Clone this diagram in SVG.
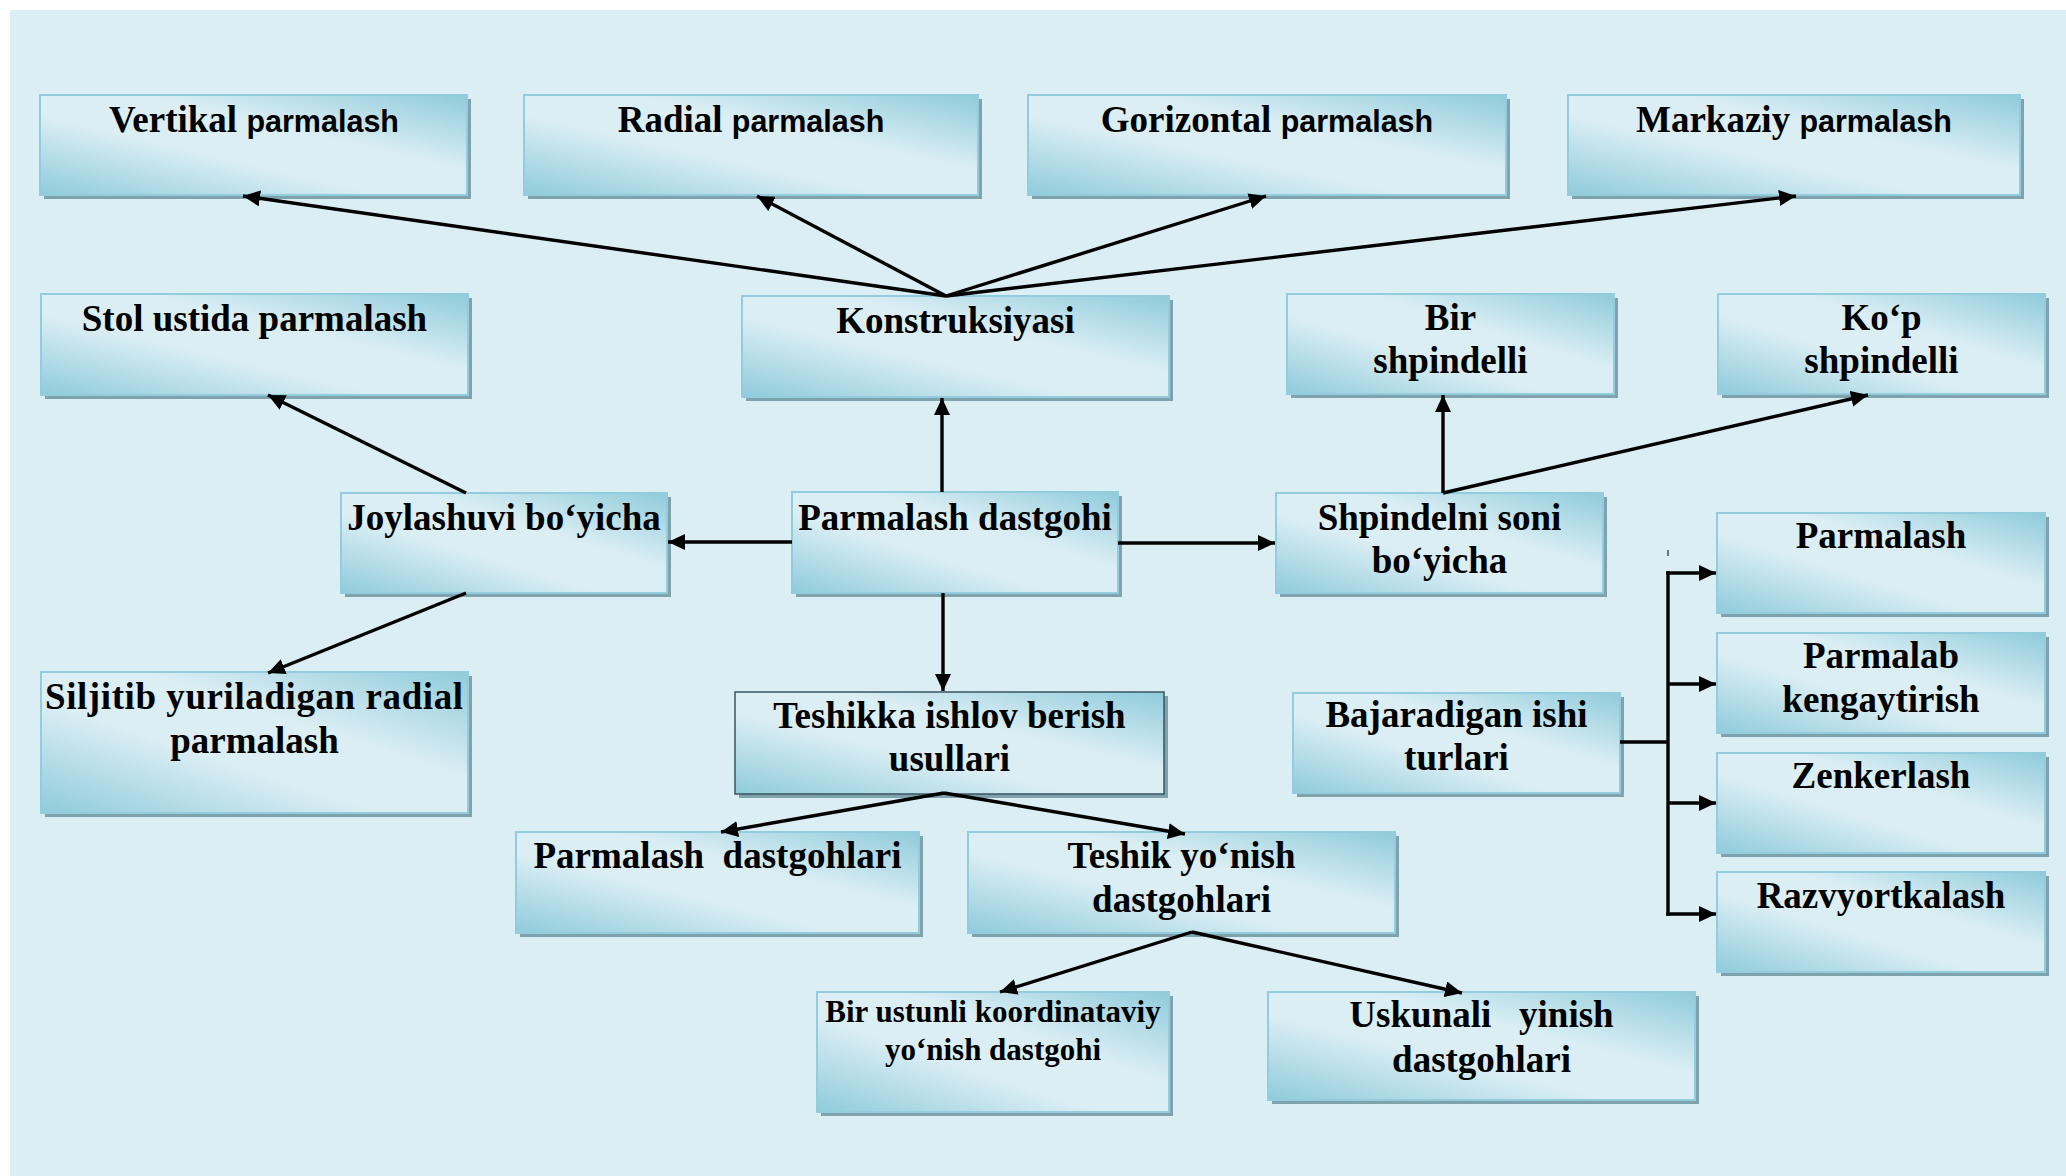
<svg xmlns="http://www.w3.org/2000/svg" width="2066" height="1176" viewBox="0 0 2066 1176">
<style>
.bx{fill:url(#g);stroke:#93cddd;stroke-width:2}
.bx2{fill:url(#g);stroke:#3a5560;stroke-width:1.5}
.sh{fill:#7fa3ad}
.t{font-family:"Liberation Serif","Times New Roman",serif;font-weight:bold;font-size:37px;text-anchor:middle;fill:#000}
.s{font-family:"Liberation Sans",Arial,sans-serif;font-size:30.5px}
.sm{font-size:31px}
.c{fill:none;stroke:#000;stroke-width:3.4}
.ca{fill:none;stroke:#000;stroke-width:3.4;marker-end:url(#ah)}
</style>
<defs>
<linearGradient id="g" x1="0" y1="1" x2="1" y2="0">
<stop offset="0" stop-color="#8fcbdb"/>
<stop offset="0.4" stop-color="#dbeef4"/>
<stop offset="0.62" stop-color="#dbeef4"/>
<stop offset="1" stop-color="#8fcbdb"/>
</linearGradient>
<marker id="ah" markerUnits="userSpaceOnUse" markerWidth="18" markerHeight="16" refX="17" refY="8" orient="auto" viewBox="0 0 18 16">
<path d="M0,0 L17,8 L0,16 z" fill="#000"/>
</marker>
</defs>
<rect x="10" y="10" width="2056" height="1166" fill="#dbeef4"/>

<g id="vertikal"><rect class="sh" x="44" y="99" width="427" height="100"/><rect class="bx" x="40" y="95" width="427" height="100"/><text class="t" x="254" y="132">Vertikal <tspan class="s">parmalash</tspan></text></g>
<g id="radial"><rect class="sh" x="528" y="99" width="454" height="100"/><rect class="bx" x="524" y="95" width="454" height="100"/><text class="t" x="751" y="132">Radial <tspan class="s">parmalash</tspan></text></g>
<g id="gorizontal"><rect class="sh" x="1032" y="99" width="478" height="100"/><rect class="bx" x="1028" y="95" width="478" height="100"/><text class="t" x="1267" y="132">Gorizontal <tspan class="s">parmalash</tspan></text></g>
<g id="markaziy"><rect class="sh" x="1572" y="99" width="452" height="100"/><rect class="bx" x="1568" y="95" width="452" height="100"/><text class="t" x="1794" y="132">Markaziy <tspan class="s">parmalash</tspan></text></g>

<g id="stol"><rect class="sh" x="45" y="298" width="427" height="101"/><rect class="bx" x="41" y="294" width="427" height="101"/><text class="t" x="254.5" y="331">Stol ustida parmalash</text></g>
<g id="konstruksiyasi"><rect class="sh" x="746" y="300" width="427" height="101"/><rect class="bx" x="742" y="296" width="427" height="101"/><text class="t" x="955.5" y="333">Konstruksiyasi</text></g>
<g id="bir-shpindelli"><rect class="sh" x="1291" y="298" width="327" height="100"/><rect class="bx" x="1287" y="294" width="327" height="100"/><text class="t" x="1450.5" y="330">Bir</text><text class="t" x="1450.5" y="373">shpindelli</text></g>
<g id="kop-shpindelli"><rect class="sh" x="1722" y="298" width="327" height="100"/><rect class="bx" x="1718" y="294" width="327" height="100"/><text class="t" x="1881.5" y="330">Ko‘p</text><text class="t" x="1881.5" y="373">shpindelli</text></g>

<g id="joylashuvi"><rect class="sh" x="345" y="497" width="326" height="100"/><rect class="bx" x="341" y="493" width="326" height="100"/><text class="t" x="504" y="530">Joylashuvi bo‘yicha</text></g>
<g id="parmalash-dastgohi"><rect class="sh" x="796" y="496" width="326" height="101"/><rect class="bx" x="792" y="492" width="326" height="101"/><text class="t" x="955" y="530">Parmalash dastgohi</text></g>
<g id="shpindelni"><rect class="sh" x="1280" y="497" width="327" height="100"/><rect class="bx" x="1276" y="493" width="327" height="100"/><text class="t" x="1439.5" y="530">Shpindelni soni</text><text class="t" x="1439.5" y="573">bo‘yicha</text></g>

<g id="parmalash-r"><rect class="sh" x="1721" y="517" width="328" height="100"/><rect class="bx" x="1717" y="513" width="328" height="100"/><text class="t" x="1881" y="548">Parmalash</text></g>
<g id="parmalab"><rect class="sh" x="1721" y="637" width="328" height="100"/><rect class="bx" x="1717" y="633" width="328" height="100"/><text class="t" x="1881" y="668">Parmalab</text><text class="t" x="1881" y="712">kengaytirish</text></g>
<g id="zenkerlash"><rect class="sh" x="1721" y="757" width="328" height="100"/><rect class="bx" x="1717" y="753" width="328" height="100"/><text class="t" x="1881" y="788">Zenkerlash</text></g>
<g id="razvyortkalash"><rect class="sh" x="1721" y="876" width="328" height="100"/><rect class="bx" x="1717" y="872" width="328" height="100"/><text class="t" x="1881" y="908">Razvyortkalash</text></g>
<g id="bajaradigan"><rect class="sh" x="1297" y="697" width="327" height="100"/><rect class="bx" x="1293" y="693" width="327" height="100"/><text class="t" x="1456.5" y="727">Bajaradigan ishi</text><text class="t" x="1456.5" y="770">turlari</text></g>

<g id="siljitib"><rect class="sh" x="45" y="676" width="427" height="141"/><rect class="bx" x="41" y="672" width="427" height="141"/><text class="t" x="45" y="709" style="text-anchor:start" textLength="418" lengthAdjust="spacing">Siljitib yuriladigan radial</text><text class="t" x="254.5" y="753">parmalash</text></g>
<g id="teshikka"><rect class="sh" x="739" y="696" width="429" height="102"/><rect class="bx2" x="735" y="692" width="429" height="102"/><text class="t" x="949.5" y="728">Teshikka ishlov berish</text><text class="t" x="949.5" y="771">usullari</text></g>

<g id="parmalash-dastgohlari"><rect class="sh" x="520" y="836" width="403" height="101"/><rect class="bx" x="516" y="832" width="403" height="101"/><text class="t" x="717.5" y="868" xml:space="preserve" style="white-space:pre">Parmalash  dastgohlari</text></g>
<g id="teshik-yonish"><rect class="sh" x="972" y="836" width="427" height="101"/><rect class="bx" x="968" y="832" width="427" height="101"/><text class="t" x="1181.5" y="868">Teshik yo‘nish</text><text class="t" x="1181.5" y="912">dastgohlari</text></g>

<g id="bir-ustunli"><rect class="sh" x="821" y="996" width="352" height="120"/><rect class="bx" x="817" y="992" width="352" height="120"/><text class="t sm" x="993" y="1022">Bir ustunli koordinataviy</text><text class="t sm" x="993" y="1060">yo‘nish dastgohi</text></g>
<g id="uskunali"><rect class="sh" x="1272" y="996" width="427" height="108"/><rect class="bx" x="1268" y="992" width="427" height="108"/><text class="t" x="1481.5" y="1027" xml:space="preserve" style="white-space:pre">Uskunali   yinish</text><text class="t" x="1481.5" y="1072">dastgohlari</text></g>

<g id="connectors">
<path class="ca" d="M946,296 L243,196"/>
<path class="ca" d="M946,296 L757,196"/>
<path class="ca" d="M946,296 L1266,196"/>
<path class="ca" d="M946,296 L1796,196"/>
<path class="ca" d="M942,492 L942,398"/>
<path class="ca" d="M792,542 L668,542"/>
<path class="ca" d="M1118,543 L1275,543"/>
<path class="ca" d="M943,593 L943,691"/>
<path class="ca" d="M466,493 L268,395"/>
<path class="ca" d="M466,593 L268,673"/>
<path class="ca" d="M1443,493 L1443,395"/>
<path class="ca" d="M1443,493 L1868,395"/>
<path class="c" d="M1620,742 L1668,742 M1668,571.3 L1668,915.7"/>
<path class="ca" d="M1666.3,573 L1716,573"/>
<path class="ca" d="M1668,684 L1716,684"/>
<path class="ca" d="M1668,803 L1716,803"/>
<path class="ca" d="M1666.3,914 L1716,914"/>
<path d="M1668,550 L1668,556" stroke="#000" stroke-width="1"/>
<path class="ca" d="M944,793 L721,832"/>
<path class="ca" d="M944,793 L1185,834"/>
<path class="ca" d="M1192,932 L1000,992"/>
<path class="ca" d="M1192,932 L1462,993"/>
</g>
</svg>
